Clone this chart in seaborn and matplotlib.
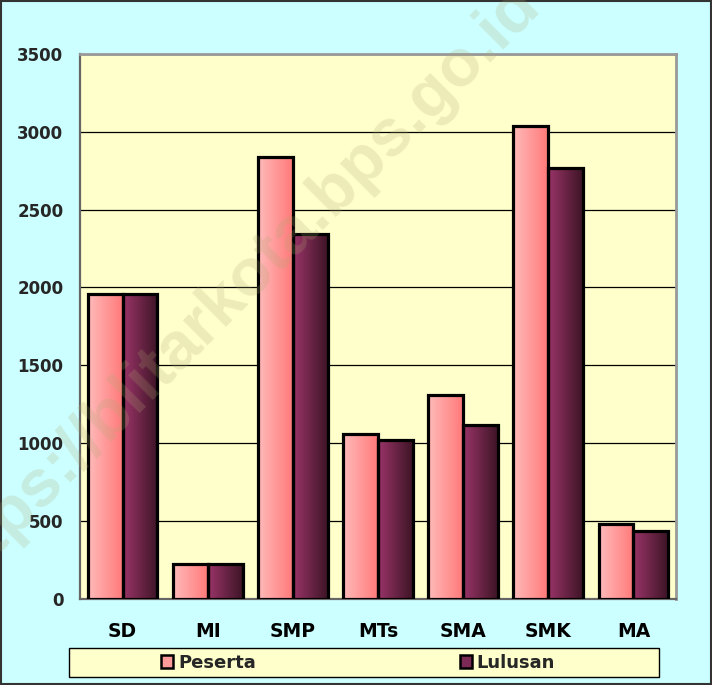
import numpy as np
import pandas as pd
import matplotlib
matplotlib.use("Agg")
import matplotlib.pyplot as plt
from matplotlib.patches import Rectangle, Patch
from matplotlib.colors import LinearSegmentedColormap
import seaborn as sns

categories = ["SD", "MI", "SMP", "MTs", "SMA", "SMK", "MA"]
peserta = [1960, 221, 2840, 1056, 1306, 3035, 478]
lulusan = [1960, 221, 2345, 1017, 1118, 2765, 433]
series_names = ["Peserta", "Lulusan"]
y_ticks = [0, 500, 1000, 1500, 2000, 2500, 3000, 3500]

sns.set_theme(style="white")
plt.rcParams["font.family"] = ["DejaVu Sans"]
plt.rcParams["font.weight"] = "bold"

df = pd.DataFrame({
    "Jenjang": categories * 2,
    "Seri": [series_names[0]] * len(categories) + [series_names[1]] * len(categories),
    "Jumlah": peserta + lulusan,
})

fig = plt.figure(figsize=(7.12, 6.85), dpi=100)
fig.patch.set_facecolor("#CCFFFF")
ax = fig.add_axes([80 / 712, 1 - 598.5 / 685, 596 / 712, 544.5 / 685])
ax.set_facecolor("#FFFFCC")

base_colors = {"Peserta": "#FF9A9A", "Lulusan": "#7A2A55"}
sns.barplot(data=df, x="Jenjang", y="Jumlah", hue="Seri", palette=base_colors,
            width=0.82, ax=ax, legend=False, edgecolor="black", linewidth=2.3,
            zorder=3)

cmap_p = LinearSegmentedColormap.from_list("p", ["#FFBABA", "#FF7A7A"])
cmap_l = LinearSegmentedColormap.from_list("l", ["#9A3468", "#3E1526"])
grad = np.linspace(0, 1, 64).reshape(1, -1)
n = len(categories)
for i, p in enumerate(ax.patches[: 2 * n]):
    cm = cmap_p if i < n else cmap_l
    x0, w, h = p.get_x(), p.get_width(), p.get_height()
    ax.imshow(grad, cmap=cm, aspect="auto", extent=(x0, x0 + w, 0, h),
              zorder=3.5, interpolation="bilinear")
    p.set_facecolor("none")
    p.set_zorder(4)

ax.set_xlim(-0.5, n - 0.5)
ax.set_ylim(0, 3500)
ax.set_yticks(y_ticks)
ax.set_yticklabels([str(v) for v in y_ticks], fontsize=12, fontweight="bold")
ax.yaxis.grid(True, color="black", linewidth=0.9, zorder=1)
ax.set_axisbelow(True)
ax.set_xlabel("")
ax.set_ylabel("")
ax.set_xticks(range(n))
ax.set_xticklabels(categories, fontsize=13.5, fontweight="bold")
ax.set_xticks(np.arange(-0.5, n, 1.0), minor=True)
ax.tick_params(axis="x", which="major", length=0, pad=17, colors="black")
ax.tick_params(axis="x", which="minor", length=6, width=1, color="#444444", direction="out")
ax.tick_params(axis="y", which="major", length=8, width=1, color="#444444", direction="out", pad=4)
for s in ["left", "bottom"]:
    ax.spines[s].set_color("#666666")
    ax.spines[s].set_linewidth(1.6)
for s in ["top", "right"]:
    ax.spines[s].set_color("#999999")
    ax.spines[s].set_linewidth(2.0)

# watermark
fig.text(234 / 712, 1 - 291 / 685, "https://blitarkota.bps.go.id", fontsize=48,
         fontweight="bold", family="Liberation Sans",
         color="#B0A870", alpha=0.22, rotation=45, rotation_mode="anchor",
         ha="center", va="center", zorder=20)

# legend box
fig.patches.append(Rectangle((69 / 712, 1 - 677 / 685), 590 / 712, 29 / 685,
                             transform=fig.transFigure, facecolor="#FFFFCC",
                             edgecolor="black", linewidth=1.0, zorder=5))
handles = [Patch(facecolor="#FF9A9A", edgecolor="black", linewidth=1.8),
           Patch(facecolor="#7A2A55", edgecolor="black", linewidth=1.8)]
leg = fig.legend(handles, series_names, loc="center",
                 bbox_to_anchor=(358 / 712, 1 - 662.5 / 685), ncol=2, frameon=False,
                 handlelength=0.7, handleheight=0.7, handletextpad=0.25,
                 columnspacing=11.3, prop={"size": 13, "weight": "bold"})
leg.set_zorder(6)

# figure border
fig.patches.append(Rectangle((0.001, 0.001), 0.997, 0.997, transform=fig.transFigure,
                             facecolor="none", edgecolor="#333333", linewidth=1.5, zorder=10))

fig.savefig("out.png", dpi=100, facecolor=fig.get_facecolor())
